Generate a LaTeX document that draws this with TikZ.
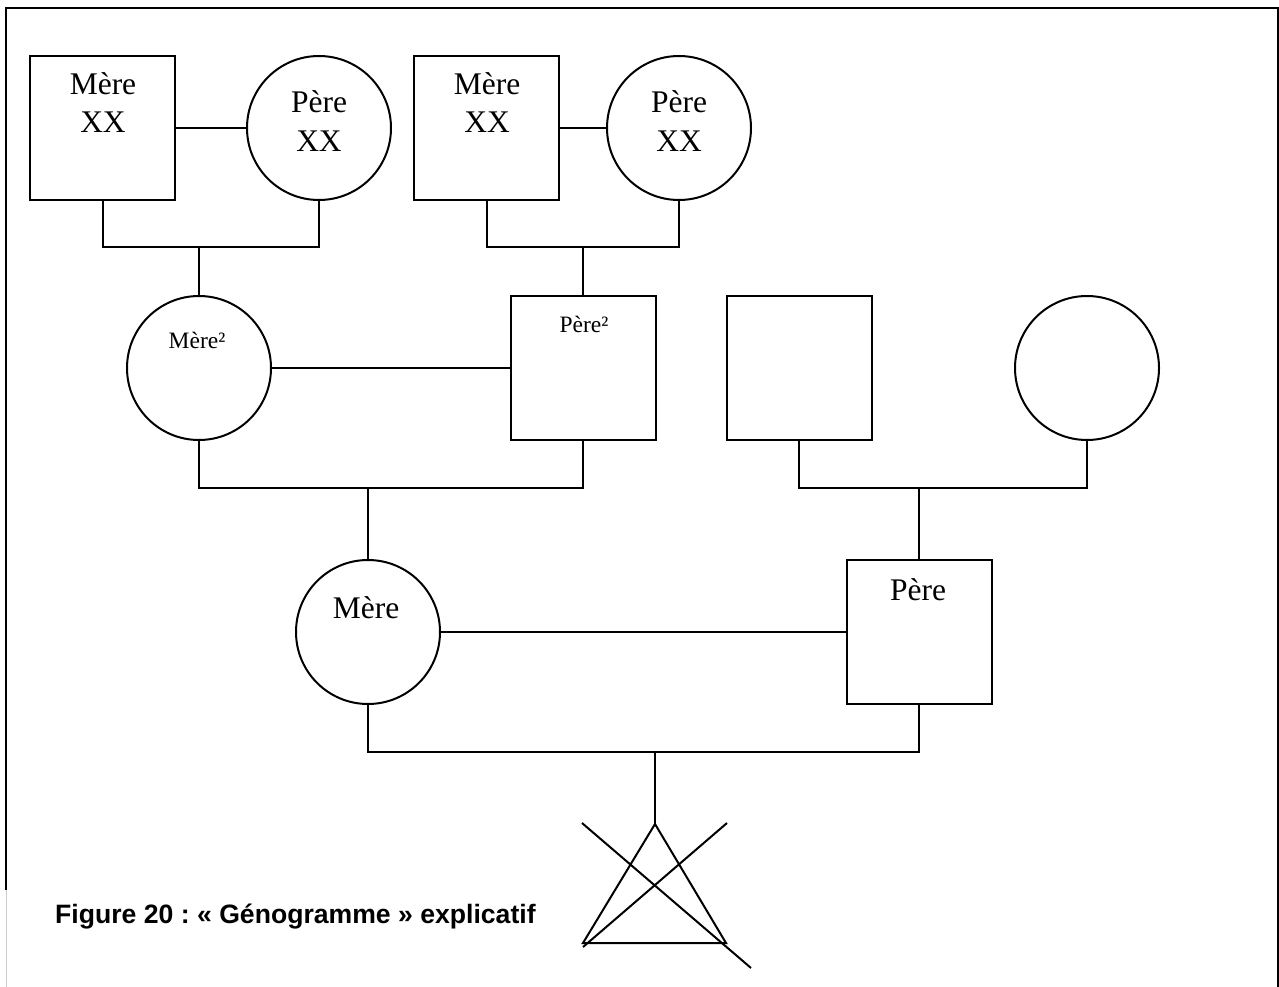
\documentclass[tikz,border=0pt]{standalone}
\usepackage{fontspec}
\setmainfont{Liberation Serif}
\newfontfamily\capfont{Liberation Sans}
\frenchspacing
\begin{document}
\begin{tikzpicture}[x=1pt,y=-1pt,
  ln/.style={line width=2pt},
  sqbox/.style={draw,line width=2pt,minimum width=145pt,minimum height=144pt,inner sep=0pt,outer sep=0pt},
  circ/.style={draw,circle,line width=2pt,minimum size=144pt,inner sep=0pt,outer sep=0pt},
  big/.style={font=\fontsize{31.5}{38}\selectfont,inner sep=0pt,anchor=base},
  small/.style={font=\fontsize{23.5}{28}\selectfont,inner sep=0pt,anchor=base},
  captxt/.style={font=\capfont\bfseries\fontsize{26.6}{30}\selectfont,inner sep=0pt,anchor=base west},
]
\useasboundingbox (0,0) rectangle (1279,987);
\fill[white] (0,0) rectangle (1279,987);
% frame
\draw[line width=2.3pt,line join=miter] (6,890) -- (6,8) -- (1278,8) -- (1278,987);
\draw[black!20,line width=1pt] (6,890) -- (6,987);

% shapes
\node[sqbox] (gm1) at (102.5,128) {};
\node[circ]  (gp1) at (319,128) {};
\node[sqbox] (gm2) at (486.5,128) {};
\node[circ]  (gp2) at (679,128) {};
\node[circ]  (m2)  at (199,368) {};
\node[sqbox] (p2)  at (583,368) {};
\node[sqbox] (s3)  at (799,368) {};
\node[circ]  (c3)  at (1087,368) {};
\node[circ]  (mere) at (368,632) {};
\node[sqbox] (pere) at (919,632) {};

% texts
\node[big] (t1a) at (103,95) {Mère};
\node[big] (t1b) at (103,133) {XX};
\node[big] (t2a) at (319,113) {Père};
\node[big] (t2b) at (319,152) {XX};
\node[big] (t3a) at (487,95) {Mère};
\node[big] (t3b) at (487,133) {XX};
\node[big] (t4a) at (679,113) {Père};
\node[big] (t4b) at (679,152) {XX};
\node[small] (t5) at (197,348) {Mère²};
\node[small] (t6) at (584,332) {Père²};
\node[big] (t7) at (366,618) {Mère};
\node[big] (t8) at (918,600) {Père};
\node[captxt] (cap) at (55,923) {Figure 20 : « Génogramme » explicatif};

% junctions
\coordinate (j1) at (199,247);
\coordinate (j2) at (583,247);
\coordinate (j3) at (368,488);
\coordinate (j4) at (919,488);
\coordinate (j5) at (655,752);

% connectors
\draw[ln] (gm1.east) -- (gp1.west);
\draw[ln] (gm1.south) |- (j1) -| (gp1.south);
\draw[ln] (j1) -- (m2.north);
\draw[ln] (gm2.east) -- (gp2.west);
\draw[ln] (gm2.south) |- (j2) -| (gp2.south);
\draw[ln] (j2) -- (p2.north);
\draw[ln] (m2.east) -- (p2.west);
\draw[ln] (m2.south) |- (j3) -| (p2.south);
\draw[ln] (j3) -- (mere.north);
\draw[ln] (s3.south) |- (j4) -| (c3.south);
\draw[ln] (j4) -- (pere.north);
\draw[ln] (mere.east) -- (pere.west);
\draw[ln] (mere.south) |- (j5) -| (pere.south);

% crossed triangle
\coordinate (tA) at (655,824);
\coordinate (tB) at (583,943);
\coordinate (tC) at (726,943);
\coordinate (x1a) at (582,823);
\coordinate (x1b) at (751,968);
\coordinate (x2a) at (727,823);
\coordinate (x2b) at (583,947);
\draw[ln] (j5) -- (tA);
\draw[ln,line join=miter] (tA) -- (tB) -- (tC) -- cycle;
\draw[ln] (x1a) -- (x1b);
\draw[ln] (x2a) -- (x2b);
\end{tikzpicture}
\end{document}
